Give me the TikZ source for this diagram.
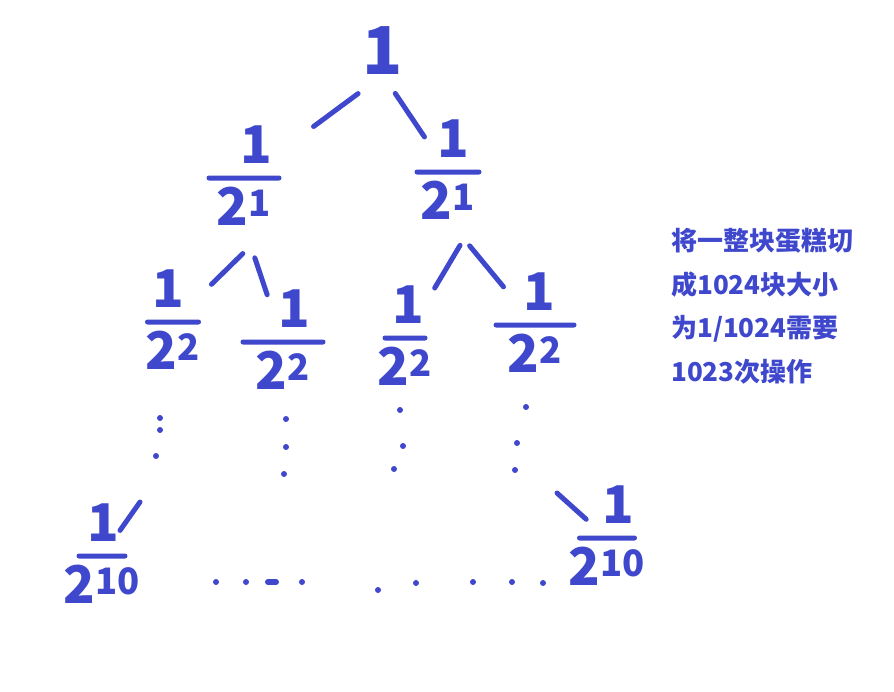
\documentclass[tikz,border=0pt]{standalone}
\usepackage{fontspec}
\setmainfont{Noto Sans CJK SC}
\usetikzlibrary{positioning}
\definecolor{ink}{RGB}{63,72,204}
\tikzset{
  bar/.style={fill=ink,inner sep=0pt,minimum height=5pt,minimum width=#1,rounded corners=2.5pt},
  num/.style={text=ink,inner sep=0pt,font=\fontsize{52}{52}\selectfont\bfseries},
  link/.style={draw=ink,line width=5pt,line cap=round},
}
\begin{document}
\begin{tikzpicture}[x=1pt,y=-1pt]
	\useasboundingbox (0,0) rectangle (894,691);
	\node [num,font=\fontsize{66}{66}\selectfont\bfseries] (top) at (383,51) {1};
	% fractions 1/2^k: bar, then numerator and denominator
	\foreach \n/\x/\y/\w/\e/\s in {l1/244/178/75/1/12, r1/448/172/67/1/5,
		a/173/322/56/2/-5, b/283/342/85/2/11, c/405/338/45/2/3, d/535/325/83/2/4,
		a10/102/556/51/10/1, d10/607/538/60/10/11}{
		\node [bar=\w pt] (\n) at (\x,\y) {};
		\node [num,above=12pt of \n,xshift=\s pt] (\n-n) {1};
		\node [num,below=6pt of \n] (\n-d) {2\textsuperscript{\e}};
	}
	\draw [link,shorten <=31pt,shorten >=82pt] (top.south) -- (l1);
	\draw [link,shorten <=22pt,shorten >=39pt] (top.south) -- (r1);
	\draw [link,shorten <=40pt,shorten >=50pt] (l1-d.south east) -- (a);
	\draw [link,shorten <=34pt,shorten >=47pt] (l1-d.south) -- (b);
	\draw [link,shorten <=30pt,shorten >=55pt] (r1-d.south east) -- (c);
	\draw [link,shorten <=34pt,shorten >=46pt] (r1-d.south) -- (d);
	\coordinate (a10-top) at (140,502);
	\coordinate (d10-top) at (557,493);
	\draw [link,shorten >=28pt] (a10-top) -- (a10);
	\draw [link,shorten >=24pt] (d10-top) -- (d10);
	% dots
	\foreach \x/\y in {160/418, 160/430, 156/456, 286/419, 286/447, 284/474,
		400/410, 403/446, 394/469, 526/407, 517/443, 515/470,
		216/582, 246/582, 302/582, 378/590, 416/583, 473/582, 512/582, 543/583}
		\fill [ink] (\x,\y) circle (3pt);
	\draw [link,line width=6pt] (268,582) -- (276,582);
	\node [text=ink,font=\fontsize{26}{43.5}\selectfont\bfseries,align=left,
		anchor=north west,inner sep=0pt] (note) at (671,228)
		{将一整块蛋糕切\\成1024块大小\\为1/1024需要\\1023次操作};
\end{tikzpicture}
\end{document}
